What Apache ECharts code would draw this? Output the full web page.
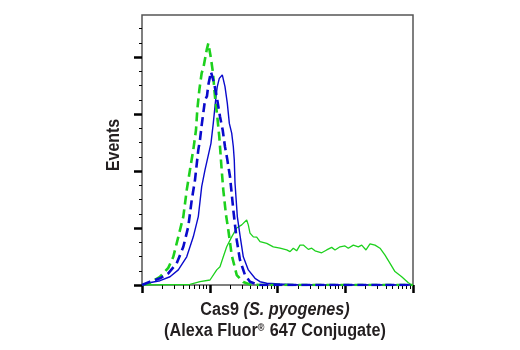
<!DOCTYPE html>
<html>
<head>
<meta charset="utf-8">
<script src="https://cdn.jsdelivr.net/npm/echarts@6/dist/echarts.min.js"></script>
<style>html,body{margin:0;padding:0;background:#fff}#c{width:520px;height:350px}</style>
</head>
<body>
<div id="c"></div>
<script>
// x = log10 fluorescence (decades), y = events
var greenDashed = [[0,0],[0.118,0.7],[0.266,2.9],[0.314,4.1],[0.388,6.0],[0.462,9.9],[0.536,16.9],[0.610,24.0],[0.660,33.3],[0.708,40.4],[0.757,47.4],[0.797,54.4],[0.816,61.4],[0.846,68.4],[0.881,74.4],[0.905,76.1],[0.955,82.5],[0.979,84.8],[1.014,80.1],[1.048,74.4],[1.077,66.1],[1.111,59.1],[1.141,52.0],[1.162,45.0],[1.176,40.4],[1.200,33.3],[1.240,24.6],[1.274,19.3],[1.324,10.5],[1.398,3.5],[1.495,1.05],[1.594,0.18],[1.74,0],[4,0]];
var blueDashed = [[0,0],[0.118,1.16],[0.266,2.35],[0.388,4.1],[0.512,7.6],[0.610,13.4],[0.683,20.5],[0.734,29.8],[0.782,36.8],[0.831,47.4],[0.856,50.9],[0.881,56.1],[0.905,60.4],[0.930,64.9],[0.959,66.3],[0.979,70.2],[1.018,74.8],[1.063,70.9],[1.103,66.1],[1.151,59.1],[1.191,54.4],[1.225,48.5],[1.255,44.6],[1.299,38.0],[1.348,26.3],[1.398,15.8],[1.446,8.8],[1.520,3.5],[1.594,1.16],[1.717,0],[4,0]];
var blueSolid = [[0,0],[0.069,0.6],[0.266,1.5],[0.413,2.9],[0.536,5.3],[0.660,9.9],[0.757,16.9],[0.831,24.0],[0.881,34.5],[0.930,40.4],[0.979,45.6],[1.018,49.7],[1.052,56.7],[1.092,66.1],[1.111,69.6],[1.141,72.5],[1.185,73.7],[1.225,69.6],[1.259,63.8],[1.289,56.7],[1.324,53.3],[1.348,48.5],[1.362,43.9],[1.373,35.7],[1.407,24.0],[1.446,17.5],[1.495,9.9],[1.569,5.3],[1.668,2.35],[1.742,1.16],[1.841,0.6],[2.037,0.35],[2.33,0],[4,0]];
var greenSolid = [[0,0],[0.708,0.18],[0.856,1.16],[1.004,1.75],[1.103,5.3],[1.151,6.4],[1.200,9.9],[1.250,13.4],[1.324,16.9],[1.398,20.0],[1.472,21.1],[1.545,22.8],[1.569,21.1],[1.594,18.2],[1.643,16.9],[1.693,16.8],[1.742,15.2],[1.841,14.6],[1.938,13.4],[2.037,12.9],[2.136,12.3],[2.185,11.7],[2.233,12.9],[2.283,12.0],[2.332,14.0],[2.381,14.0],[2.455,12.5],[2.505,12.9],[2.554,12.0],[2.652,11.3],[2.726,12.3],[2.800,13.2],[2.849,12.3],[2.923,13.4],[2.996,13.7],[3.045,12.9],[3.119,14.0],[3.193,13.4],[3.243,14.0],[3.306,12.3],[3.365,14.4],[3.439,14.0],[3.513,12.9],[3.587,10.5],[3.661,7.6],[3.734,4.7],[3.833,2.9],[3.931,0.8],[3.981,0]];
var xMajorTicks = [0,1,2,3,4];
var xMinorTicks = (function(){var a=[];for(var d=0;d<4;d++){for(var k=2;k<=9;k++){a.push(d+Math.log10(k));}}return a;})();
var yMajorTicks = [0,20,40,60,80];
var yMinorTicks = [5,10,15,25,30,35,45,50,55,65,70,75,85,90];
var yMax = 94.74;

var FONT = '"Liberation Sans Narrow","Arial Narrow","Liberation Sans",sans-serif';
var chart = echarts.init(document.getElementById('c'), null, {renderer:'canvas'});
function xAx(ticks, len, w){
  return {type:'value', min:0, max:4, position:'bottom', axisLine:{show:false},
    axisTick:{show:true, inside:false, length:len, customValues:ticks, lineStyle:{color:'#000', width:w}},
    axisLabel:{show:false}, splitLine:{show:false}};
}
function yAx(ticks, len, w){
  return {type:'value', min:0, max:yMax, position:'left', axisLine:{show:false},
    axisTick:{show:true, inside:false, length:len, customValues:ticks, lineStyle:{color:'#000', width:w}},
    axisLabel:{show:false}, splitLine:{show:false}};
}
function ser(data, color, dashed, width){
  return {type:'line', data:data, showSymbol:false, symbol:'none', xAxisIndex:0, yAxisIndex:0,
    lineStyle:{color:color, width:width, type: dashed ? [9,5] : 'solid'}, silent:true};
}
chart.setOption({
  animation:false,
  grid:{left:142, top:15, width:271, height:270, show:true, borderColor:'#555', borderWidth:1.5, backgroundColor:'transparent'},
  xAxis:[xAx(xMajorTicks,8,2.5), xAx(xMinorTicks,4,1)],
  yAxis:[yAx(yMajorTicks,8,2.5), yAx(yMinorTicks,3,1)],
  series:[
    ser(greenSolid,'#1dd11d',false,1.3),
    ser(blueSolid,'#0a0acc',false,1.4),
    ser(greenDashed,'#1dd11d',true,2.6),
    ser(blueDashed,'#0a0acc',true,2.6)
  ],
  graphic:[
    {type:'text', x:114, y:145, rotation:Math.PI/2, scaleX:0.88, style:{text:'Events', font:'bold 18px '+FONT, fill:'#231f20', align:'center', verticalAlign:'middle'}},
    {type:'text', x:275, y:300, scaleX:0.9, style:{
      text:'{b|Cas9 }{i|(S. pyogenes)}\n{b|(Alexa Fluor}{s|®}{b| 647 Conjugate)}',
      align:'center', verticalAlign:'top', fill:'#231f20',
      rich:{
        b:{font:'bold 18px '+FONT, fill:'#231f20', lineHeight:21},
        i:{font:'italic bold 18px '+FONT, fill:'#231f20', lineHeight:21},
        s:{font:'bold 10px '+FONT, fill:'#231f20', lineHeight:21, verticalAlign:'top', padding:[2,1,0,0]}
      }
    }}
  ]
});
</script>
</body>
</html>
